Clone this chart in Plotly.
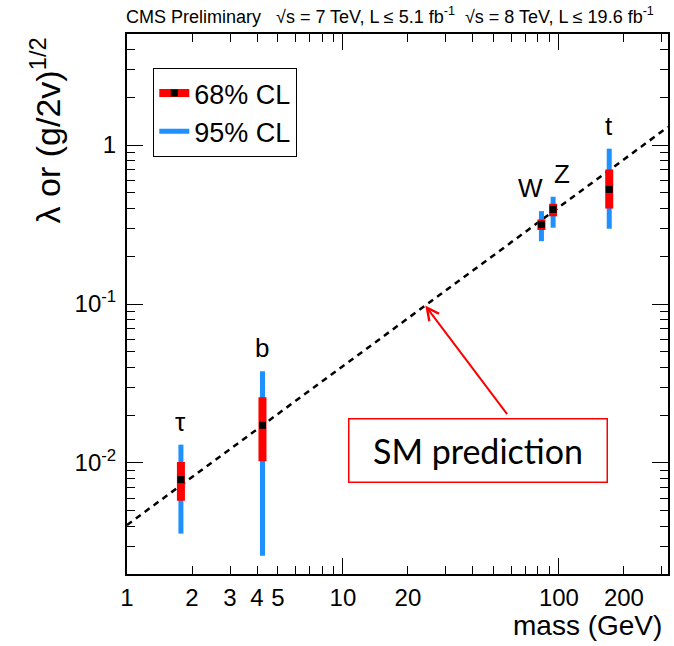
import math
import plotly.graph_objects as go

# ---------------- data ----------------
particles = ["τ", "b", "W", "Z", "t"]
mass = [1.777, 4.24, 83.0, 94.0, 171.0]
central = [0.00785, 0.01725, 0.3167, 0.3936, 0.526]
lo68 = [0.00579, 0.01023, 0.2917, 0.357, 0.3995]
hi68 = [0.01014, 0.0259, 0.340, 0.4276, 0.703]
lo95 = [0.00359, 0.00261, 0.2485, 0.302, 0.2975]
hi95 = [0.01303, 0.0377, 0.384, 0.473, 0.949]
label_xshift = [0, 0, -11, 9, 0]

sm_mass = [1.0, 320.0]
sm_lambda = [0.00407, 1.30]

x_labeled = [1, 2, 3, 4, 5, 10, 20, 100, 200]
x_minor = [6, 7, 8, 9, 30, 40, 50, 60, 70, 80, 90, 300]
x_major = [1, 10, 100]
y_minor = [0.002, 0.003, 0.004, 0.005, 0.006, 0.007, 0.008, 0.009,
           0.02, 0.03, 0.04, 0.05, 0.06, 0.07, 0.08, 0.09,
           0.2, 0.3, 0.4, 0.5, 0.6, 0.7, 0.8, 0.9, 2, 3, 4, 5]
y_major = [0.01, 0.1, 1]
y_major_text = ["10<sup>-2</sup>", "10<sup>-1</sup>", "1"]

header = ("CMS Preliminary   √s = 7 TeV, L ≤ 5.1 fb<sup>-1</sup>  "
          "√s = 8 TeV, L ≤ 19.6 fb<sup>-1</sup>")

BLUE = "#1e90ff"
RED = "#ff0000"
FONT = "Liberation Sans"

fig = go.Figure()

# SM prediction dashed line
fig.add_trace(go.Scatter(x=sm_mass, y=sm_lambda, mode="lines",
                         line=dict(color="black", width=2.5, dash="6px,5px"),
                         showlegend=False, hoverinfo="skip"))

# 95% CL bars
bx, by = [], []
for m, l, h in zip(mass, lo95, hi95):
    bx += [m, m, None]
    by += [l, h, None]
fig.add_trace(go.Scatter(x=bx, y=by, mode="lines", name="95% CL",
                         line=dict(color=BLUE, width=5), legendgroup="g95"))

# 68% CL bars with central values
rx, ry, rc = [], [], []
for m, c, l, h in zip(mass, central, lo68, hi68):
    rx += [m, m, m, None]
    ry += [c, l, h, None]
    rc += ["black", "rgba(0,0,0,0)", "rgba(0,0,0,0)", "rgba(0,0,0,0)"]
fig.add_trace(go.Scatter(x=rx, y=ry, mode="lines+markers", name="68% CL",
                         line=dict(color=RED, width=8),
                         marker=dict(symbol="square", size=7, color=rc),
                         legendgroup="g68"))

# overlay trace (no data) for the secondary tick axes
fig.add_trace(go.Scatter(x=[None], y=[None], xaxis="x2", yaxis="y2",
                         showlegend=False, hoverinfo="skip"))

xr = [0, math.log10(320)]
yr = [math.log10(0.002), math.log10(5)]

xt_vals = x_labeled + x_minor
xt_text = [str(v) for v in x_labeled] + [""] * len(x_minor)
yt_vals = y_major + y_minor
yt_text = y_major_text + [""] * len(y_minor)

fig.update_layout(
    width=674, height=646,
    margin=dict(l=127, r=6, t=34, b=72, autoexpand=False),
    paper_bgcolor="white", plot_bgcolor="white",
    font=dict(family=FONT, color="black"),
    xaxis=dict(type="log", range=xr, tickvals=xt_vals, ticktext=xt_text,
               ticks="inside", ticklen=8, tickwidth=1, tickcolor="black",
               showline=True, linecolor="black", linewidth=1.5, mirror="ticks",
               showgrid=False, zeroline=False, automargin=False,
               tickfont=dict(size=24, family=FONT), ticklabelstandoff=1),
    yaxis=dict(type="log", range=yr, tickvals=yt_vals, ticktext=yt_text,
               ticks="inside", ticklen=8, tickwidth=1, tickcolor="black",
               showline=True, linecolor="black", linewidth=2, mirror="ticks",
               showgrid=False, zeroline=False, automargin=False,
               tickfont=dict(size=24, family=FONT), ticklabelstandoff=4),
    xaxis2=dict(type="log", range=xr, overlaying="x", side="bottom",
                tickvals=x_major, ticktext=["", "", ""], ticks="inside",
                ticklen=16, tickwidth=1, tickcolor="black", mirror="ticks",
                showline=False, showgrid=False, zeroline=False, automargin=False),
    yaxis2=dict(type="log", range=yr, overlaying="y", side="left",
                tickvals=y_major, ticktext=["", "", ""], ticks="inside",
                ticklen=16, tickwidth=1, tickcolor="black", mirror="ticks",
                showline=False, showgrid=False, zeroline=False, automargin=False),
    legend=dict(x=0.0486, y=0.937, xanchor="left", yanchor="top",
                bordercolor="black", borderwidth=1, bgcolor="white",
                font=dict(size=27, family=FONT), traceorder="reversed",
                tracegroupgap=12, itemwidth=30),
    showlegend=True,
)

annotations = []
for p, m, h, xs in zip(particles, mass, hi95, label_xshift):
    annotations.append(dict(x=math.log10(m), y=math.log10(h), xref="x", yref="y",
                            text=p, showarrow=False, yanchor="bottom",
                            xshift=xs, yshift=6,
                            font=dict(size=26, family=FONT)))

annotations += [
    dict(x=0, y=1, xref="paper", yref="paper", xanchor="left", yanchor="bottom",
         yshift=5, xshift=-3, text=header, showarrow=False,
         font=dict(size=18, family=FONT)),
    dict(x=1, y=0, xref="paper", yref="paper", xanchor="right", yanchor="top",
         yshift=-34, xshift=-4, text="mass (GeV)", showarrow=False,
         font=dict(size=28, family=FONT)),
    dict(x=-0.151, y=0.998, xref="paper", yref="paper", xanchor="center",
         yanchor="top", text="λ or (g/2v)<sup>1/2</sup>", textangle=-90,
         showarrow=False, font=dict(size=34, family=FONT)),
    dict(x=math.log10(24.05), y=math.log10(24.05 / 246), xref="x", yref="y",
         ax=83, ay=110, text="", showarrow=True, arrowhead=5, arrowsize=1.2,
         arrowwidth=2, arrowcolor=RED),
    dict(x=0.649, y=0.2296, xref="paper", yref="paper", xanchor="center",
         yanchor="middle", text="SM prediction", showarrow=False,
         bordercolor=RED, borderwidth=1.5, borderpad=0, bgcolor="white",
         width=257, height=62, font=dict(size=34, family="Lato")),
]
fig.update_layout(annotations=annotations)

fig.write_html("out.html", config={"displayModeBar": False},
               post_script="document.body.style.margin='0';")
